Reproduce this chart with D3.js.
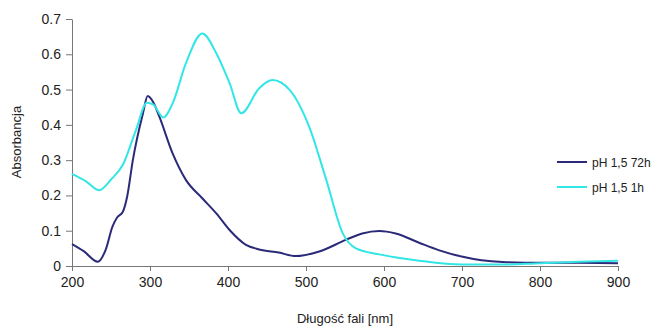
<!DOCTYPE html>
<html>
<head>
<meta charset="utf-8">
<script src="https://cdn.jsdelivr.net/npm/d3@7"></script>
<style>
  body { margin: 0; background: #fff; }
  text { font-family: "Liberation Sans", Arial, sans-serif; fill: #222; }
</style>
</head>
<body>
<div id="chart"></div>
<script>
// wavelengths (nm) and absorbance for each series
const wl72 = [200, 215, 233, 243, 252, 258, 265, 271, 278, 291, 297, 304, 312, 329, 346, 367, 385, 402, 423, 440, 465, 487, 517, 551, 572, 594, 615, 645, 670, 701, 725, 752, 800, 850, 900];
const abs72 = [0.062, 0.042, 0.012, 0.045, 0.112, 0.138, 0.153, 0.200, 0.300, 0.433, 0.482, 0.465, 0.423, 0.319, 0.244, 0.192, 0.149, 0.102, 0.060, 0.047, 0.038, 0.028, 0.041, 0.074, 0.092, 0.099, 0.092, 0.066, 0.045, 0.026, 0.016, 0.011, 0.009, 0.009, 0.008];

const wl1 = [200, 218, 235, 250, 265, 282, 296, 304, 317, 329, 346, 367, 385, 402, 417, 440, 457, 479, 504, 526, 547, 564, 594, 645, 700, 750, 800, 850, 900];
const abs1 = [0.261, 0.240, 0.215, 0.245, 0.286, 0.385, 0.463, 0.458, 0.421, 0.461, 0.574, 0.659, 0.603, 0.518, 0.433, 0.504, 0.527, 0.499, 0.395, 0.244, 0.093, 0.050, 0.033, 0.015, 0.004, 0.004, 0.008, 0.012, 0.015];

const seriesNames = ["pH 1,5 72h", "pH 1,5 1h"];
const seriesColors = ["#2b2a78", "#33e6e6"];
const xTicks = [200, 300, 400, 500, 600, 700, 800, 900];
const yTicks = [0, 0.1, 0.2, 0.3, 0.4, 0.5, 0.6, 0.7];

const W = 669, H = 329;
const margin = {top: 19, right: 51, bottom: 63, left: 72};
const width = W - margin.left - margin.right,
      height = H - margin.top - margin.bottom;

const svg = d3.select("#chart").append("svg")
  .attr("width", W).attr("height", H);

const g = svg.append("g")
  .attr("transform", "translate(" + margin.left + "," + margin.top + ")");

const x = d3.scaleLinear().domain([200, 900]).range([0, width]);
const y = d3.scaleLinear().domain([0, 0.7]).range([height, 0]);

const series = [
  wl72.map((w, i) => ({x: w, y: abs72[i]})),
  wl1.map((w, i) => ({x: w, y: abs1[i]}))
];

// axes
const xAxis = g.append("g")
  .attr("transform", "translate(0," + height + ")")
  .call(d3.axisBottom(x).tickValues(xTicks).tickSize(5).tickSizeOuter(0).tickPadding(6));
const yAxis = g.append("g")
  .call(d3.axisLeft(y).tickValues(yTicks).tickSize(6).tickSizeOuter(0).tickPadding(5)
    .tickFormat(d => d === 0 ? "0" : d3.format(".1f")(d)));

[xAxis, yAxis].forEach(a => {
  a.select(".domain").attr("stroke", "#777");
  a.selectAll(".tick line").attr("stroke", "#777");
  a.selectAll("text").style("font-size", "14px").attr("fill", "#222")
    .style("font-family", "Liberation Sans, Arial, sans-serif");
});

// lines
const line = d3.line()
  .x(d => x(d.x))
  .y(d => y(d.y))
  .curve(d3.curveMonotoneX);

g.selectAll(".series")
  .data(series)
  .enter().append("path")
  .attr("class", "series")
  .attr("fill", "none")
  .attr("stroke", (d, i) => seriesColors[i])
  .attr("stroke-width", 2)
  .attr("d", line);

// axis titles
svg.append("text")
  .attr("x", 345).attr("y", 323)
  .attr("text-anchor", "middle")
  .style("font-size", "13px")
  .text("Długość fali [nm]");

svg.append("text")
  .attr("transform", "translate(21,142) rotate(-90)")
  .attr("text-anchor", "middle")
  .style("font-size", "13px")
  .text("Absorbancja");

// legend
const legend = svg.append("g").attr("transform", "translate(557,162)");
seriesNames.forEach((name, i) => {
  const row = legend.append("g").attr("transform", "translate(0," + i * 25 + ")");
  row.append("line")
    .attr("x1", 0).attr("x2", 30)
    .attr("stroke", seriesColors[i]).attr("stroke-width", 2);
  row.append("text")
    .attr("x", 35).attr("y", 4.5)
    .style("font-size", "12px")
    .text(name);
});
</script>
</body>
</html>
